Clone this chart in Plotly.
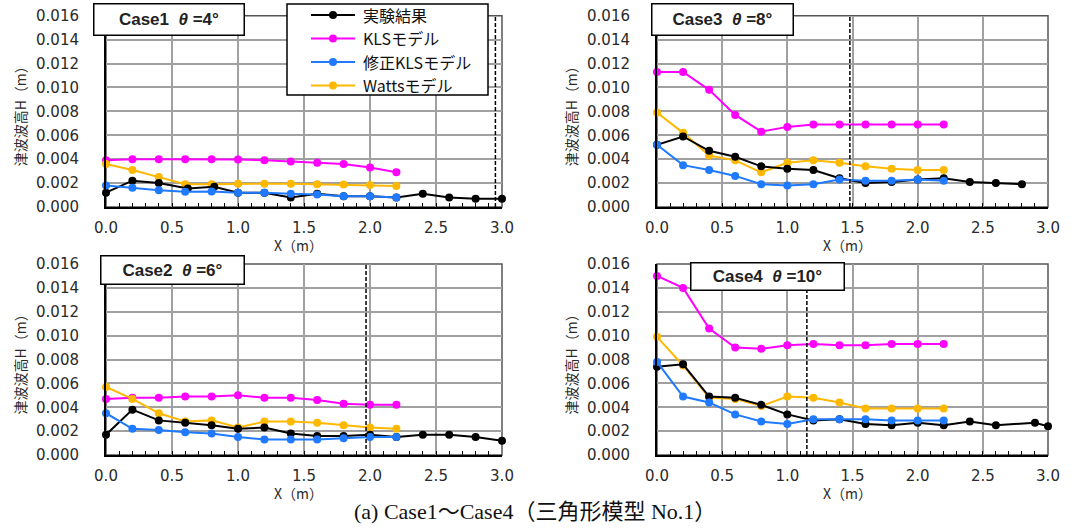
import plotly.graph_objects as go

# ---------------- data ----------------
x_model = [0.0, 0.2, 0.4, 0.6, 0.8, 1.0, 1.2, 1.4, 1.6, 1.8, 2.0, 2.2]

# Case1 theta=4
c1_exp_x = [0.0, 0.2, 0.4, 0.62, 0.82, 1.0, 1.2, 1.4, 1.6, 1.8, 2.0, 2.2, 2.4, 2.6, 2.8, 3.0]
c1_exp = [0.0012, 0.0022, 0.0020, 0.00155, 0.0017, 0.0012, 0.0012, 0.0008, 0.0011, 0.0009, 0.0009, 0.0008, 0.0011, 0.0008, 0.0007, 0.0007]
c1_kls = [0.0039, 0.0040, 0.0040, 0.0040, 0.0040, 0.00397, 0.0039, 0.0038, 0.0037, 0.0036, 0.0033, 0.0029]
c1_mkls = [0.0018, 0.0016, 0.0014, 0.00128, 0.0013, 0.0012, 0.0012, 0.0011, 0.00105, 0.0009, 0.0009, 0.0008]
c1_watts = [0.0036, 0.0031, 0.0025, 0.0019, 0.0019, 0.00195, 0.00195, 0.00195, 0.0019, 0.00188, 0.00185, 0.00176]

# Case3 theta=8
c3_exp_x = [0.0, 0.2, 0.4, 0.6, 0.8, 1.0, 1.2, 1.4, 1.6, 1.8, 2.0, 2.2, 2.4, 2.6, 2.8]
c3_exp = [0.0052, 0.0059, 0.0047, 0.0042, 0.0034, 0.0032, 0.0031, 0.0024, 0.0020, 0.0021, 0.0023, 0.0024, 0.0021, 0.0020, 0.0019]
c3_kls = [0.0113, 0.0113, 0.0098, 0.0077, 0.0063, 0.0067, 0.0069, 0.0069, 0.0069, 0.0069, 0.0069, 0.0069]
c3_mkls = [0.0052, 0.0035, 0.0031, 0.0026, 0.0019, 0.0018, 0.0019, 0.0023, 0.0022, 0.0022, 0.0023, 0.0022]
c3_watts = [0.0079, 0.0062, 0.0043, 0.0039, 0.0029, 0.0037, 0.0039, 0.0037, 0.0034, 0.0032, 0.0031, 0.0031]

# Case2 theta=6
c2_exp_x = [0.0, 0.2, 0.4, 0.6, 0.8, 1.0, 1.2, 1.4, 1.6, 1.8, 2.0, 2.2, 2.4, 2.6, 2.8, 3.0]
c2_exp = [0.0017, 0.0038, 0.0029, 0.0027, 0.0025, 0.0022, 0.0023, 0.0018, 0.0016, 0.0016, 0.0017, 0.0015, 0.0017, 0.0017, 0.0015, 0.0012]
c2_kls = [0.0047, 0.0048, 0.0048, 0.0049, 0.0049, 0.0050, 0.0048, 0.0048, 0.0046, 0.0043, 0.0042, 0.0042]
c2_mkls = [0.0035, 0.0022, 0.0021, 0.0019, 0.0018, 0.0015, 0.0013, 0.0013, 0.0013, 0.0014, 0.0015, 0.0015]
c2_watts = [0.0057, 0.0047, 0.0035, 0.0028, 0.0029, 0.0023, 0.0028, 0.0028, 0.0027, 0.0025, 0.0023, 0.0022]

# Case4 theta=10
c4_exp_x = [0.0, 0.2, 0.4, 0.6, 0.8, 1.0, 1.2, 1.4, 1.6, 1.8, 2.0, 2.2, 2.4, 2.6, 2.9, 3.0]
c4_exp = [0.0074, 0.0076, 0.0049, 0.0048, 0.0042, 0.0034, 0.0029, 0.0030, 0.0026, 0.0025, 0.0027, 0.0025, 0.0028, 0.0025, 0.0027, 0.0024]
c4_kls = [0.0150, 0.0140, 0.0106, 0.0090, 0.0089, 0.0092, 0.0093, 0.0092, 0.0092, 0.0093, 0.0093, 0.0093]
c4_mkls = [0.0078, 0.0049, 0.0044, 0.0034, 0.0028, 0.0026, 0.0030, 0.0030, 0.0030, 0.0029, 0.0029, 0.0029]
c4_watts = [0.0099, 0.0075, 0.0048, 0.0047, 0.0041, 0.0049, 0.0048, 0.0044, 0.0039, 0.0039, 0.0039, 0.0039]

series_names = ["実験結果", "KLSモデル", "修正KLSモデル", "Wattsモデル"]
case_labels = ["Case1  <i>θ</i> =4°", "Case3  <i>θ</i> =8°", "Case2  <i>θ</i> =6°", "Case4  <i>θ</i> =10°"]
dashed_x = [2.95, 1.48, 1.97, 1.15]
y_title = "津波波高H（m）"
x_title = "X（m）"
caption = "(a) Case1～Case4（三角形模型 No.1）"

# ---------------- style ----------------
colors = ["#000000", "#ff00ff", "#1f7aff", "#ffb800"]
W, H = 1089, 528
xdoms = [[106 / W, 502 / W], [657 / W, 1048 / W]]
ydoms = [[1 - 207 / H, 1 - 15.7 / H], [1 - 455 / H, 1 - 264 / H]]

panels = [
    (c1_exp_x, c1_exp, c1_kls, c1_mkls, c1_watts, 0, 0),
    (c3_exp_x, c3_exp, c3_kls, c3_mkls, c3_watts, 1, 0),
    (c2_exp_x, c2_exp, c2_kls, c2_mkls, c2_watts, 0, 1),
    (c4_exp_x, c4_exp, c4_kls, c4_mkls, c4_watts, 1, 1),
]

fig = go.Figure()
tickfont = dict(family="DejaVu Sans, sans-serif", size=15, color="#2a2a2a")
titlefont = dict(family="Noto Sans CJK JP", size=14, color="#2a2a2a")
layout = {}
annotations = []
shapes = []

# (left, top, width, height) of case label boxes in pixels
label_box = [(93, 3, 152, 33), (651, 3, 143, 33), (100, 255, 145, 30), (690, 262, 155, 29)]

for i, (ex, ey, kls, mkls, watts, col, row) in enumerate(panels):
    n = i + 1
    xa = "x" if n == 1 else f"x{n}"
    ya = "y" if n == 1 else f"y{n}"
    data = [(ex, ey), (x_model, kls), (x_model, mkls), (x_model, watts)]
    for k in [1, 3, 0, 2]:
        xs, ys = data[k]
        fig.add_trace(go.Scatter(
            x=xs, y=ys, mode="lines+markers", name=series_names[k],
            line=dict(color=colors[k], width=2),
            marker=dict(color=colors[k], size=8),
            xaxis=xa, yaxis=ya, showlegend=False, cliponaxis=False,
        ))
    layout[f"xaxis{'' if n == 1 else n}"] = dict(
        domain=xdoms[col], range=[0, 3.0], dtick=0.5, tickformat=".1f",
        showgrid=True, gridcolor="#a0a0a0", gridwidth=1.5,
        showline=True, linecolor="black", linewidth=2,
        ticks="inside", ticklen=4, tickcolor="black",
        minor=dict(dtick=0.1, ticks="inside", ticklen=4, tickcolor="black", showgrid=False),
        tickfont=tickfont, anchor=ya, zeroline=False, ticklabelstandoff=6,
        automargin=False, fixedrange=True,
    )
    layout[f"yaxis{'' if n == 1 else n}"] = dict(
        domain=ydoms[row], range=[0, 0.016], dtick=0.002, tickformat=".3f",
        showgrid=True, gridcolor="#a0a0a0", gridwidth=1.5,
        showline=True, linecolor="black", linewidth=2,
        ticks="", tickfont=tickfont, anchor=xa, zeroline=False, ticklabelstandoff=22,
        automargin=False, fixedrange=True,
    )
    # border top/right
    shapes.append(dict(type="rect", xref=f"{xa} domain", yref=f"{ya} domain",
                       x0=0, x1=1, y0=0, y1=1, line=dict(color="#555555", width=1.5), layer="below"))
    # dashed vertical line
    shapes.append(dict(type="line", xref=xa, yref=f"{ya} domain", x0=dashed_x[i], x1=dashed_x[i],
                       y0=0, y1=1, line=dict(color="black", width=1.5, dash="4px,2px")))
    # axis titles
    xc = (xdoms[col][0] + xdoms[col][1]) / 2
    annotations.append(dict(text=x_title, xref="paper", yref="paper", x=xc - 5 / W,
                            y=ydoms[row][0] - 38 / H, xanchor="center", yanchor="middle",
                            showarrow=False, font=titlefont))
    annotations.append(dict(text=y_title, xref="paper", yref="paper",
                            x=xdoms[col][0] - 86 / W, y=(ydoms[row][0] + ydoms[row][1]) / 2 - 2 / H,
                            xanchor="center", yanchor="middle", textangle=-90,
                            showarrow=False, font=titlefont))
    # case label box
    lx, ly, bw, bh = label_box[i]
    annotations.append(dict(text=f"<b>{case_labels[i]}</b>", xref="paper", yref="paper",
                            x=lx / W, y=1 - ly / H, xanchor="left", yanchor="top", showarrow=False,
                            align="center", valign="middle", width=bw - 11, height=bh - 11,
                            bgcolor="white", bordercolor="black", borderwidth=1.5,
                            borderpad=4, font=dict(family="Liberation Sans, Arial", size=17, color="#222")))

# manual legend (box, sample lines, markers, labels) in pixel positions
leg_left, leg_top, leg_right, leg_bottom = 287, 4, 488, 95
row_gap = 23.5
shapes.append(dict(type="rect", xref="paper", yref="paper",
                   x0=leg_left / W, x1=leg_right / W, y0=1 - leg_bottom / H, y1=1 - leg_top / H,
                   fillcolor="white", line=dict(color="black", width=1.5), layer="above"))
for k in range(4):
    yy = 1 - (15 + row_gap * k) / H
    shapes.append(dict(type="line", xref="paper", yref="paper", x0=311 / W, x1=355 / W,
                       y0=yy, y1=yy, line=dict(color=colors[k], width=2), layer="above"))
    shapes.append(dict(type="circle", xref="paper", yref="paper", xsizemode="pixel", ysizemode="pixel",
                       xanchor=333 / W, yanchor=yy, x0=-4, x1=4, y0=-4, y1=4,
                       fillcolor=colors[k], line=dict(color=colors[k], width=0), layer="above"))
    annotations.append(dict(text=series_names[k], xref="paper", yref="paper", x=361 / W, y=yy,
                            xanchor="left", yanchor="middle", showarrow=False,
                            font=dict(family="Noto Sans CJK JP", size=16, color="#111")))

annotations.append(dict(text=caption, xref="paper", yref="paper", x=535 / W, y=1 - 511 / H,
                        xanchor="center", yanchor="middle", showarrow=False,
                        font=dict(family="Liberation Serif, Noto Sans CJK JP", size=22, color="#111")))

fig.update_layout(
    width=W, height=H, margin=dict(l=0, r=0, t=0, b=0, autoexpand=False),
    paper_bgcolor="white", plot_bgcolor="white",
    showlegend=False,
    annotations=annotations, shapes=shapes,
    **layout,
)

fig.write_html("out.html")
